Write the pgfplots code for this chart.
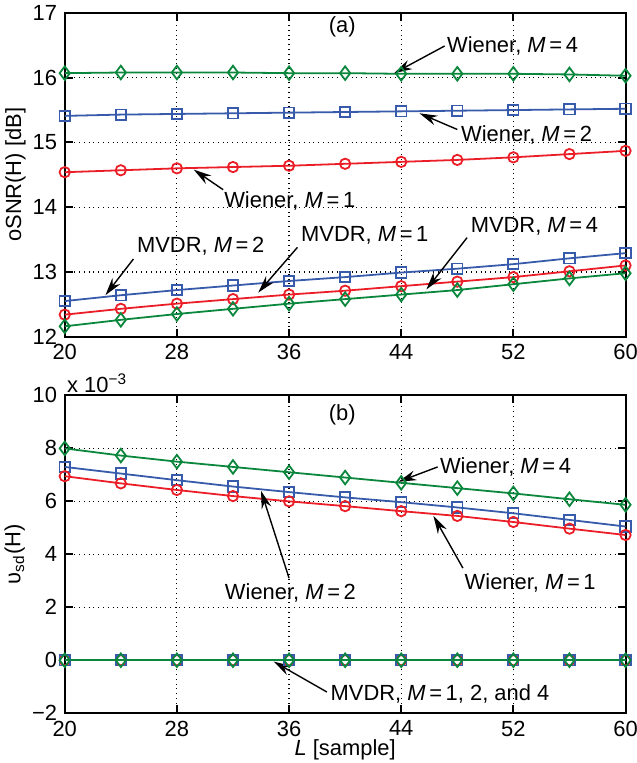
\documentclass[border=0pt]{standalone}
\usepackage{fontspec}
\setmainfont{Liberation Sans}
\usepackage{pgfplots}
\pgfplotsset{compat=1.18}
\usetikzlibrary{arrows.meta,calc}

\definecolor{mred}{RGB}{235,30,40}
\definecolor{mblue}{RGB}{55,90,170}
\definecolor{mgreen}{RGB}{10,135,60}

\begin{document}
\fontsize{11pt}{13pt}\selectfont
\begin{tikzpicture}[
  note/.style={font=\fontsize{11pt}{13pt}\selectfont, inner sep=1pt},
  arr/.style={-{Stealth[length=9pt,width=5pt]}, line width=0.7pt, black}]
\pgfplotsset{
  every axis/.append style={
    scale only axis,
    width=281.5pt,
    xmin=20, xmax=60,
    xtick={20,28,...,60},
    tick align=inside,
    ticklabel style={font=\fontsize{11pt}{13pt}\selectfont},
    label style={font=\fontsize{11pt}{13pt}\selectfont},
    /pgf/number format/assume math mode=true,
    grid=major,
    major grid style={black, dotted, line width=0.6pt},
    axis line style={line width=1pt},
    major tick style={line width=1pt, black},
    major tick length=4pt,
    every axis plot/.append style={line width=0.9pt, mark size=2.6pt},
    clip=false,
  },
  dia/.style={mark=diamond, mark size=3.4pt},
}
% ---------- (a) ----------
\begin{axis}[
  name=top,
  at={(0,189pt)}, anchor=south west,
  height=162.5pt,
  ymin=12, ymax=17,
  ytick={12,13,...,17},
  ylabel={oSNR(H) [dB]},
  ylabel style={yshift=-4pt},
]
\addplot[mgreen, dia] coordinates {
 (20,16.07) (24,16.08) (28,16.08) (32,16.08) (36,16.07) (40,16.07)
 (44,16.06) (48,16.06) (52,16.06) (56,16.05) (60,16.03)};
\addplot[mblue, mark=square] coordinates {
 (20,15.41) (24,15.43) (28,15.44) (32,15.45) (36,15.46) (40,15.47)
 (44,15.48) (48,15.49) (52,15.50) (56,15.51) (60,15.52)};
\addplot[mred, mark=o] coordinates {
 (20,14.54) (24,14.57) (28,14.60) (32,14.62) (36,14.64) (40,14.67)
 (44,14.70) (48,14.73) (52,14.77) (56,14.82) (60,14.87)};
\addplot[mblue, mark=square] coordinates {
 (20,12.55) (24,12.64) (28,12.72) (32,12.79) (36,12.86) (40,12.92)
 (44,12.99) (48,13.05) (52,13.12) (56,13.21) (60,13.29)};
\addplot[mred, mark=o] coordinates {
 (20,12.34) (24,12.43) (28,12.51) (32,12.58) (36,12.65) (40,12.71)
 (44,12.78) (48,12.85) (52,12.92) (56,13.01) (60,13.10)};
\addplot[mgreen, dia] coordinates {
 (20,12.16) (24,12.26) (28,12.35) (32,12.43) (36,12.51) (40,12.58)
 (44,12.65) (48,12.72) (52,12.81) (56,12.90) (60,12.98)};

\node[note] at (axis cs:39.8,16.78) {(a)};
\node[note, anchor=west] at (axis cs:47.1,16.49) {Wiener, \textit{M}\,=\,4};
\draw[arr] (axis cs:47.1,16.49) -- (axis cs:43.5,16.07);
\node[note, anchor=west] at (axis cs:48.1,15.11) {Wiener, \textit{M}\,=\,2};
\draw[arr] (axis cs:48.0,15.20) -- (axis cs:45.3,15.45);
\node[note] at (axis cs:36.05,14.09) {Wiener, \textit{M}\,=\,1};
\draw[arr] (axis cs:31.3,14.27) -- (axis cs:29.2,14.58);
\node[note] at (axis cs:29.7,13.39) {MVDR, \textit{M}\,=\,2};
\draw[arr] (axis cs:24.9,13.20) -- (axis cs:22.9,12.64);
\node[note] at (axis cs:41.4,13.57) {MVDR, \textit{M}\,=\,1};
\draw[arr] (axis cs:36.6,13.38) -- (axis cs:33.8,12.68);
\node[note] at (axis cs:53.5,13.71) {MVDR, \textit{M}\,=\,4};
\draw[arr] (axis cs:48.7,13.53) -- (axis cs:45.8,12.73);
\end{axis}

% ---------- (b) ----------
\begin{axis}[
  name=bot,
  at={(0,0)}, anchor=south west,
  height=159.5pt,
  ymin=-2, ymax=10,
  ytick={-2,0,...,10},
  yticklabels={−2,0,2,4,6,8,10},
  ylabel={υ\textsubscript{sd}(H)},
  ylabel style={yshift=-4pt},
  xlabel={\textit{L} [sample]},
  xlabel style={yshift=6pt},
]
\addplot[mgreen, dia] coordinates {
 (20,8.00) (24,7.73) (28,7.50) (32,7.30) (36,7.10) (40,6.90)
 (44,6.70) (48,6.50) (52,6.30) (56,6.08) (60,5.87)};
\addplot[mblue, mark=square] coordinates {
 (20,7.30) (24,7.05) (28,6.80) (32,6.56) (36,6.35) (40,6.15)
 (44,5.97) (48,5.77) (52,5.55) (56,5.30) (60,5.05)};
\addplot[mred, mark=o] coordinates {
 (20,6.95) (24,6.68) (28,6.43) (32,6.20) (36,6.00) (40,5.82)
 (44,5.63) (48,5.45) (52,5.22) (56,4.97) (60,4.73)};
\addplot[mred, mark=o] coordinates {
 (20,0) (24,0) (28,0) (32,0) (36,0) (40,0)
 (44,0) (48,0) (52,0) (56,0) (60,0)};
\addplot[mblue, mark=square] coordinates {
 (20,0) (24,0) (28,0) (32,0) (36,0) (40,0)
 (44,0) (48,0) (52,0) (56,0) (60,0)};
\addplot[mgreen, dia] coordinates {
 (20,0) (24,0) (28,0) (32,0) (36,0) (40,0)
 (44,0) (48,0) (52,0) (56,0) (60,0)};

\node[note, anchor=south west] at (rel axis cs:0,1) {x 10\textsuperscript{−3}};
\node[note] at (axis cs:39.8,9.26) {(b)};
\node[note, anchor=west] at (axis cs:46.6,7.30) {Wiener, \textit{M}\,=\,4};
\draw[arr] (axis cs:46.6,7.30) -- (axis cs:43.8,6.74);
\node[note] at (axis cs:36.1,2.54) {Wiener, \textit{M}\,=\,2};
\draw[arr] (axis cs:36.0,3.10) -- (axis cs:34.0,6.40);
\node[note] at (axis cs:53.2,2.93) {Wiener, \textit{M}\,=\,1};
\draw[arr] (axis cs:48.4,3.48) -- (axis cs:46.3,5.45);
\node[note, anchor=west] at (axis cs:38.8,-1.28) {MVDR, \textit{M}\,=\,1, 2, and 4};
\draw[arr] (axis cs:38.7,-1.20) -- (axis cs:34.9,-0.05);
\end{axis}
\pgfresetboundingbox
\path[use as bounding box] ($(bot.south west)+(-32.5pt,-25pt)$)
  rectangle ($(top.north east)+(5.5pt,6.5pt)$);
\end{tikzpicture}
\end{document}
